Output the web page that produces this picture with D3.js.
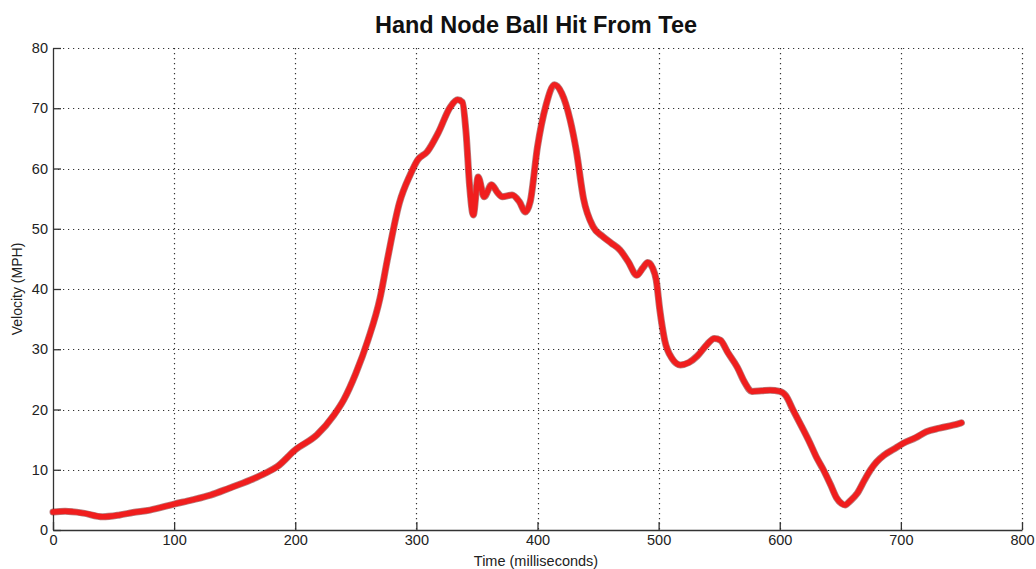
<!DOCTYPE html>
<html>
<head>
<meta charset="utf-8">
<script src="https://cdn.jsdelivr.net/npm/d3@7"></script>
<style>
  html, body { margin: 0; padding: 0; background: #ffffff; }
  svg { display: block; }
</style>
</head>
<body>
<svg id="chart" width="1036" height="569"></svg>
<script>
const title = "Hand Node Ball Hit From Tee";
const xLabel = "Time (milliseconds)";
const yLabel = "Velocity (MPH)";
const xTicks = [0, 100, 200, 300, 400, 500, 600, 700, 800];
const yTicks = [0, 10, 20, 30, 40, 50, 60, 70, 80];

const timeMs = [0, 10, 25, 41, 55, 66, 80, 100, 115, 130, 145, 163, 175, 185, 200, 218, 232, 240, 250, 260,
  270, 276, 286, 295, 301, 309, 318, 328, 334, 338, 341, 344, 347, 351, 356, 362, 367, 371, 379, 385,
  390, 394, 400, 407, 414, 420, 427, 432, 438, 446, 454, 461, 468, 475, 482, 487, 491, 495, 498, 501,
  505, 511, 518, 525, 532, 540, 546, 551, 557, 565, 571, 577, 585, 592, 600, 605, 611, 618, 625, 630,
  636, 642, 647, 651, 654, 658, 664, 670, 675, 680, 686, 694, 702, 712, 721, 732, 743, 750];
const velocity = [3.0, 3.1, 2.8, 2.2, 2.5, 2.9, 3.3, 4.3, 5.0, 5.8, 6.9, 8.3, 9.4, 10.5, 13.3, 15.8, 19.1, 21.6, 26, 31.5,
  38.5, 44.8, 54.3, 59, 61.4, 62.8, 65.9, 70.2, 71.4, 71, 66, 57, 52.3, 58.6, 55.3, 57.3, 56, 55.3, 55.6, 54.5,
  52.8, 54.5, 63.6, 70.5, 73.9, 72.5, 68, 63, 55, 50.3, 48.7, 47.6, 46.5, 44.5, 42.3, 43.5, 44.4, 43.5, 41.5, 36.5,
  31.5, 28.5, 27.4, 27.8, 28.9, 30.8, 31.8, 31.5, 29.5, 27, 24.5, 23.0, 23.1, 23.2, 23.0, 22.3, 19.9, 17.2, 14.4, 12.2,
  10.0, 7.5, 5.3, 4.4, 4.15, 4.8, 6.1, 8.3, 10.0, 11.3, 12.4, 13.4, 14.4, 15.3, 16.3, 16.9, 17.4, 17.8];

const data = timeMs.map((t, i) => ({ t, v: velocity[i] }));

const svg = d3.select("#chart");
const plotLeft = 53, plotRight = 1022, plotTop = 48, plotBottom = 530;

const x = d3.scaleLinear().domain([0, 800]).range([plotLeft, plotRight]);
const y = d3.scaleLinear().domain([0, 80]).range([plotBottom, plotTop]);

const fontFam = "'Liberation Sans', Arial, Helvetica, sans-serif";

// grid
const grid = svg.append("g").attr("stroke", "#333").attr("stroke-width", 1.2).attr("stroke-dasharray", "1.2,3.8");
grid.selectAll("line.v").data(xTicks.filter(d => d > 0)).enter().append("line")
  .attr("x1", d => Math.round(x(d)) + 0.5).attr("x2", d => Math.round(x(d)) + 0.5)
  .attr("y1", plotTop).attr("y2", plotBottom);
grid.selectAll("line.h").data(yTicks.filter(d => d > 0)).enter().append("line")
  .attr("y1", d => Math.round(y(d)) + 0.5).attr("y2", d => Math.round(y(d)) + 0.5)
  .attr("x1", plotLeft).attr("x2", plotRight);

// axes
const xAxis = d3.axisBottom(x).tickValues(xTicks).tickSizeInner(-8).tickSizeOuter(0).tickPadding(5);
const yAxis = d3.axisLeft(y).tickValues(yTicks).tickSizeInner(-8).tickSizeOuter(0).tickPadding(5);

const gx = svg.append("g").attr("transform", `translate(0,${plotBottom})`).call(xAxis);
const gy = svg.append("g").attr("transform", `translate(${plotLeft},0)`).call(yAxis);
[gx, gy].forEach(g => {
  g.select(".domain").attr("stroke", "#333").attr("stroke-width", 1.3);
  g.selectAll(".tick line").attr("stroke", "#333").attr("stroke-width", 1.3);
  g.selectAll(".tick text").attr("fill", "#222").attr("font-family", fontFam).attr("font-size", 14.5);
});

// line
const line = d3.line().x(d => x(d.t)).y(d => y(d.v)).curve(d3.curveMonotoneX);
svg.append("path").datum(data).attr("d", line)
  .attr("fill", "none").attr("stroke", "#7a1414").attr("stroke-opacity", 0.55)
  .attr("stroke-width", 7).attr("stroke-linejoin", "round").attr("stroke-linecap", "round");
svg.append("path").datum(data).attr("d", line)
  .attr("fill", "none").attr("stroke", "#f01e1e")
  .attr("stroke-width", 5.5).attr("stroke-linejoin", "round").attr("stroke-linecap", "round");

// title and labels
svg.append("text").attr("x", 536).attr("y", 33).attr("text-anchor", "middle")
  .attr("font-family", fontFam).attr("font-weight", "bold").attr("font-size", 23.5).attr("fill", "#111")
  .text(title);
svg.append("text").attr("x", 536).attr("y", 566).attr("text-anchor", "middle")
  .attr("font-family", fontFam).attr("font-size", 14.5).attr("fill", "#222").text(xLabel);
svg.append("text").attr("transform", "translate(22,289) rotate(-90)").attr("text-anchor", "middle")
  .attr("font-family", fontFam).attr("font-size", 14).attr("fill", "#222").text(yLabel);
</script>
</body>
</html>
